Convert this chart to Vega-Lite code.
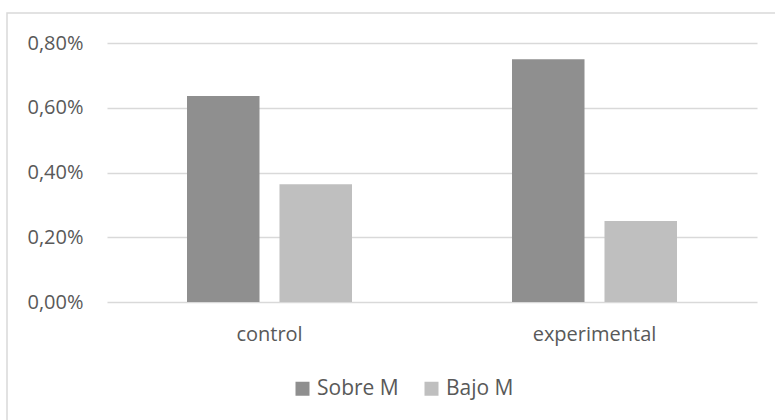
{
  "$schema": "https://vega.github.io/schema/vega-lite/v6.json",
  "autosize": {"type": "none"},
  "padding": {"left": 7, "top": 13, "right": -3, "bottom": -3},
  "width": 771,
  "height": 410,
  "data": {
    "values": [
      {"grupo": "control", "serie": "Sobre M", "valor": 0.00636},
      {"grupo": "control", "serie": "Bajo M", "valor": 0.00364},
      {"grupo": "experimental", "serie": "Sobre M", "valor": 0.0075},
      {"grupo": "experimental", "serie": "Bajo M", "valor": 0.0025}
    ]
  },
  "mark": {"type": "bar"},
  "encoding": {
    "x": {
      "field": "grupo",
      "type": "nominal",
      "sort": null,
      "scale": {"range": [100, 750], "paddingInner": 0, "paddingOuter": 0},
      "axis": {
        "title": null,
        "orient": "bottom",
        "offset": -121,
        "domain": false,
        "ticks": false,
        "grid": false,
        "labelAngle": 0,
        "labelPadding": 22,
        "labelFont": "Open Sans",
        "labelFontSize": 20,
        "labelColor": "#595959"
      }
    },
    "xOffset": {
      "field": "serie",
      "type": "nominal",
      "sort": ["Sobre M", "Bajo M"],
      "scale": {"paddingInner": 0.216, "paddingOuter": 0.865}
    },
    "y": {
      "field": "valor",
      "type": "quantitative",
      "scale": {"domain": [0, 0.008], "range": [289, 30], "nice": false},
      "axis": {
        "title": null,
        "orient": "left",
        "offset": -100,
        "values": [0, 0.002, 0.004, 0.006, 0.008],
        "labelExpr": "replace(format(datum.value, '.2%'), '.', ',')",
        "domain": false,
        "ticks": false,
        "labelPadding": 24,
        "labelFont": "Open Sans",
        "labelFontSize": 20,
        "labelColor": "#595959",
        "grid": true,
        "gridColor": "#d9d9d9",
        "gridWidth": 1.3
      }
    },
    "color": {
      "field": "serie",
      "type": "nominal",
      "scale": {"domain": ["Sobre M", "Bajo M"], "range": ["#8f8f8f", "#bfbfbf"]},
      "legend": {
        "title": null,
        "orient": "none",
        "direction": "horizontal",
        "legendX": 285,
        "legendY": 365,
        "symbolType": "square",
        "symbolSize": 196,
        "symbolStrokeWidth": 0,
        "labelFont": "Open Sans",
        "labelFontSize": 21,
        "labelColor": "#595959",
        "labelOffset": 4,
        "columnPadding": 22
      }
    }
  },
  "config": {
    "view": {"stroke": "#d9d9d9", "strokeWidth": 1.5},
    "background": "#ffffff"
  }
}
